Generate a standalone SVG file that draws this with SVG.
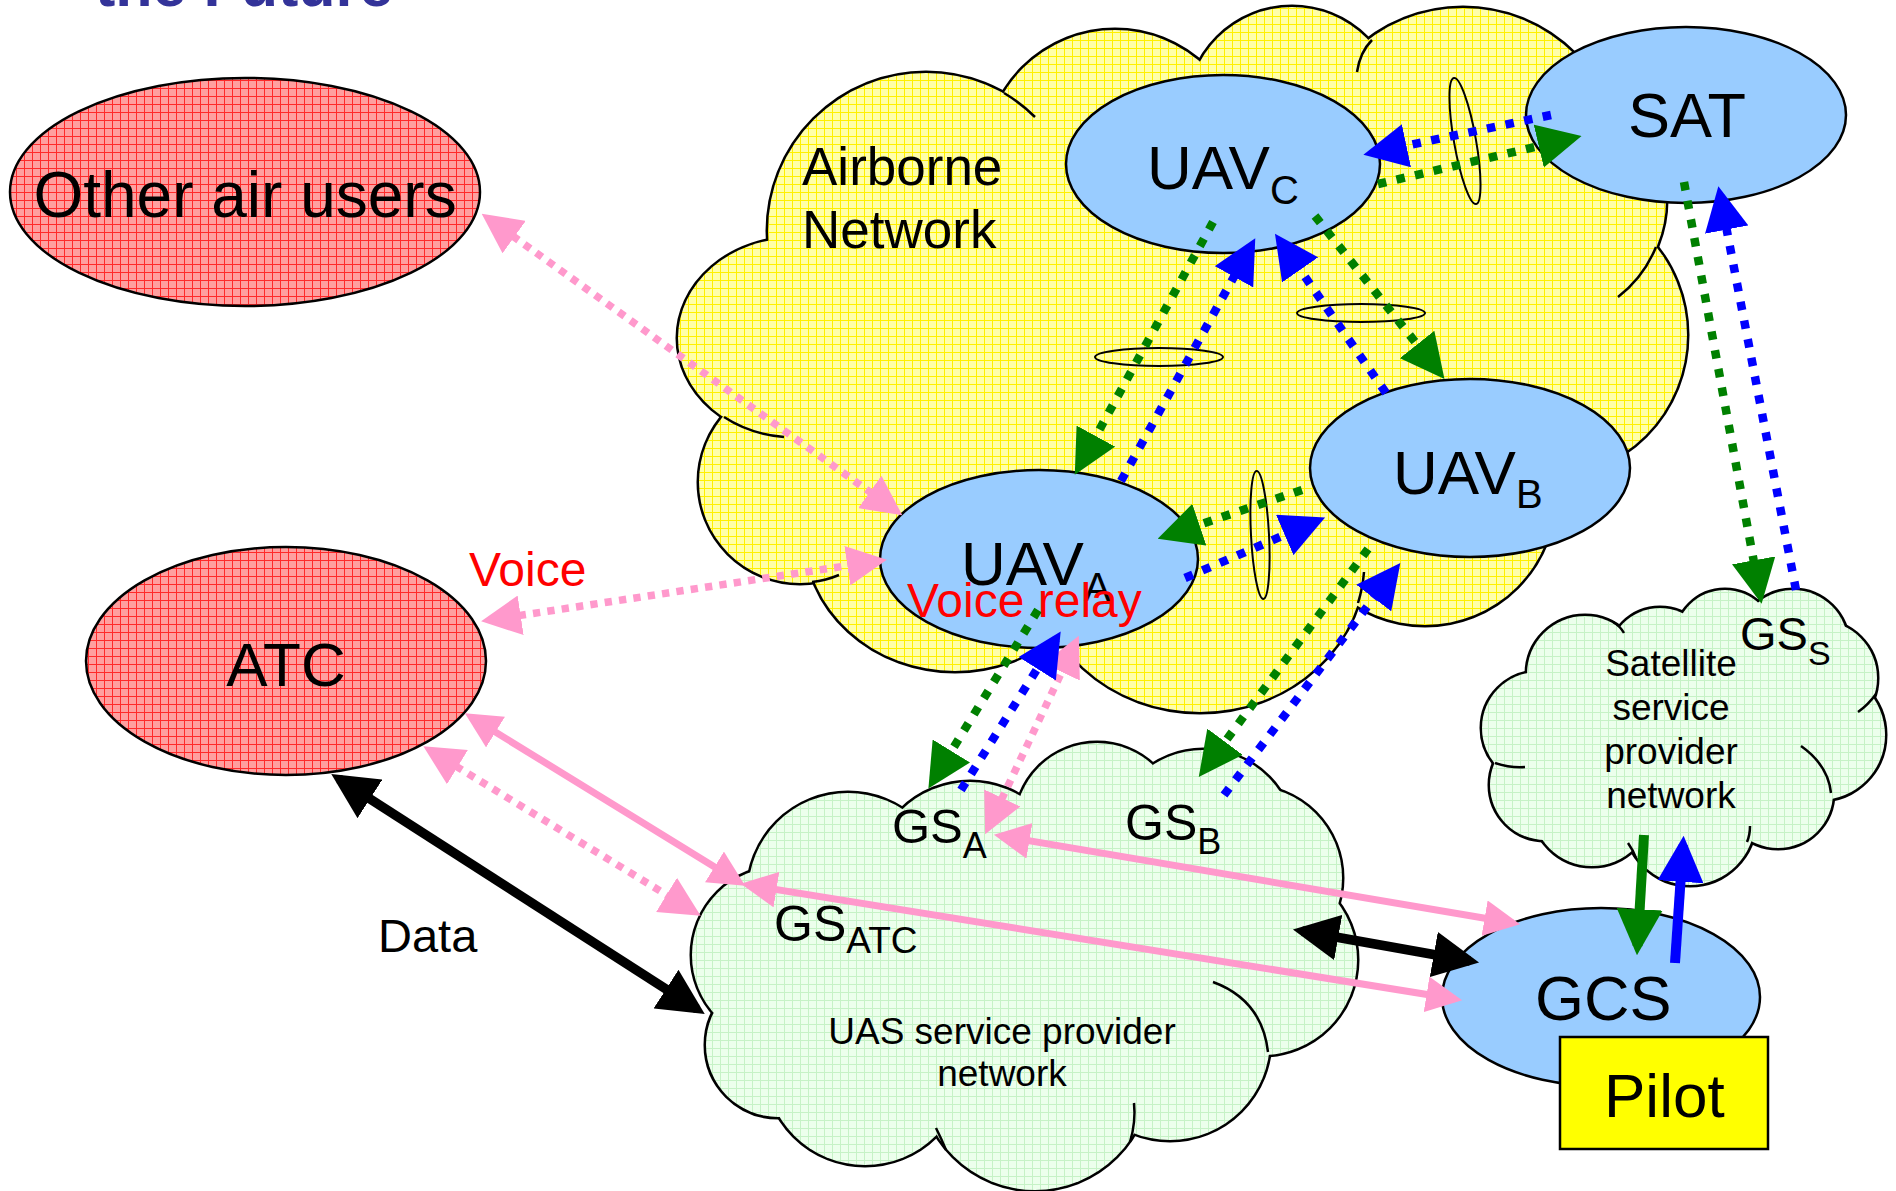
<svg xmlns="http://www.w3.org/2000/svg" xmlns:xlink="http://www.w3.org/1999/xlink" width="1896" height="1191" viewBox="0 0 1896 1191">
<style>
  text { font-family: "Liberation Sans", Arial, sans-serif; fill: #000; }
  .node { stroke: #000; stroke-width: 2.5; }
  .blue { fill: #99ccff; }
  .thin { fill: none; stroke: #000; stroke-width: 2; }
  .stub { fill: none; stroke: #000; stroke-width: 2.5; }
  .dg { fill: none; stroke: #008000; stroke-width: 8.5; stroke-dasharray: 8.5 10.5; }
  .db { fill: none; stroke: #0000ff; stroke-width: 8.5; stroke-dasharray: 8.5 10.5; }
  .dp { fill: none; stroke: #ff99cc; stroke-width: 7.5; stroke-dasharray: 7.3 7.2; }
  .sp { fill: none; stroke: #ff99cc; stroke-width: 7; }
  .sk { fill: none; stroke: #000; stroke-width: 9.5; }
  .sg { fill: none; stroke: #008000; stroke-width: 10; }
  .sb { fill: none; stroke: #0000ff; stroke-width: 10; }
</style>
<defs>
  <pattern id="pRed" width="8" height="8" patternUnits="userSpaceOnUse">
    <rect width="8" height="8" fill="#ff9f9f"/>
    <path d="M0 0.5H8M0.5 0V8" stroke="#ff2a2a" stroke-width="1"/>
  </pattern>
  <pattern id="pYel" width="8" height="8" patternUnits="userSpaceOnUse">
    <rect width="8" height="8" fill="#ffffa8"/>
    <path d="M0 0.5H8M0.5 0V8" stroke="#fff000" stroke-width="1"/>
  </pattern>
  <pattern id="pGrn" width="8" height="8" patternUnits="userSpaceOnUse">
    <rect width="8" height="8" fill="#ecffec"/>
    <path d="M0 0.5H8M0.5 0V8" stroke="#c6f2c6" stroke-width="1"/>
  </pattern>
  <marker id="mG" viewBox="0 0 10 10" refX="8" refY="5" markerUnits="userSpaceOnUse" markerWidth="44" markerHeight="44" orient="auto-start-reverse"><path d="M0,0L10,5L0,10z" fill="#008000"/></marker>
  <marker id="mB" viewBox="0 0 10 10" refX="8" refY="5" markerUnits="userSpaceOnUse" markerWidth="44" markerHeight="44" orient="auto-start-reverse"><path d="M0,0L10,5L0,10z" fill="#0000ff"/></marker>
  <marker id="mP" viewBox="0 0 10 10" refX="7.75" refY="5" markerUnits="userSpaceOnUse" markerWidth="40" markerHeight="40" orient="auto-start-reverse"><path d="M0,0L10,5L0,10z" fill="#ff99cc"/></marker>
  <marker id="mPs" viewBox="0 0 10 10" refX="8" refY="5" markerUnits="userSpaceOnUse" markerWidth="36" markerHeight="36" orient="auto-start-reverse"><path d="M0,0L10,5L0,10z" fill="#ff99cc"/></marker>
  <marker id="mK" viewBox="0 0 10 10" refX="8" refY="5" markerUnits="userSpaceOnUse" markerWidth="46" markerHeight="46" orient="auto-start-reverse"><path d="M0,0L10,5L0,10z" fill="#000"/></marker>
  <marker id="mGs" viewBox="0 0 10 10" refX="8" refY="5" markerUnits="userSpaceOnUse" markerWidth="46" markerHeight="46" orient="auto-start-reverse"><path d="M0,0L10,5L0,10z" fill="#008000"/></marker>
  <marker id="mBs" viewBox="0 0 10 10" refX="8" refY="5" markerUnits="userSpaceOnUse" markerWidth="46" markerHeight="46" orient="auto-start-reverse"><path d="M0,0L10,5L0,10z" fill="#0000ff"/></marker>

  <g id="cloudAir">
    <circle cx="926" cy="231" r="158"/>
    <circle cx="1115" cy="160" r="130"/>
    <circle cx="1292" cy="112" r="105"/>
    <circle cx="1463" cy="166" r="158"/>
    <circle cx="1545" cy="200" r="121"/>
    <circle cx="1545" cy="335" r="142"/>
    <circle cx="1425" cy="495" r="130"/>
    <ellipse cx="1200" cy="560" rx="165" ry="152"/>
    <ellipse cx="955" cy="534" rx="150" ry="137"/>
    <circle cx="800" cy="482" r="101"/>
    <ellipse cx="795" cy="338" rx="117" ry="100"/>
    <polygon points="795,338 926,231 1115,160 1292,112 1463,166 1545,200 1545,335 1425,495 1200,560 955,534 800,482"/>
  </g>
  <g id="cloudUas">
    <circle cx="848" cy="893" r="100"/>
    <circle cx="970" cy="880" r="98"/>
    <circle cx="1097" cy="825" r="82"/>
    <circle cx="1203" cy="842" r="92"/>
    <circle cx="1250" cy="878" r="92"/>
    <circle cx="1262" cy="960" r="95"/>
    <circle cx="1170" cy="1040" r="100"/>
    <circle cx="1035" cy="1075" r="115"/>
    <circle cx="865" cy="1065" r="100"/>
    <circle cx="778" cy="1045" r="72"/>
    <circle cx="780" cy="955" r="88"/>
    <polygon points="848,893 970,880 1097,825 1203,842 1250,878 1262,960 1170,1040 1035,1075 865,1065 778,1045 780,955"/>
  </g>
  <g id="cloudSat">
    <circle cx="1585" cy="674" r="58"/>
    <circle cx="1660" cy="660" r="52"/>
    <circle cx="1725" cy="640" r="50"/>
    <circle cx="1793" cy="645" r="55"/>
    <circle cx="1820" cy="678" r="57"/>
    <circle cx="1820" cy="735" r="65"/>
    <circle cx="1778" cy="793" r="55"/>
    <circle cx="1690" cy="820" r="65"/>
    <circle cx="1592" cy="806" r="60"/>
    <circle cx="1545" cy="785" r="55"/>
    <circle cx="1538" cy="728" r="56"/>
    <polygon points="1585,674 1660,660 1725,640 1793,645 1820,678 1820,735 1778,793 1690,820 1592,806 1545,785 1538,728"/>
  </g>
</defs>

<rect width="1896" height="1191" fill="#ffffff"/>

<text id="title" x="95" y="6" font-size="61" font-weight="bold" style="fill:#333399">the Future</text>

<g id="other-air-users">
  <ellipse class="node" cx="245" cy="192" rx="235" ry="114" fill="url(#pRed)"/>
  <text x="245" y="217" font-size="64" text-anchor="middle">Other air users</text>
</g>

<g id="atc">
  <ellipse class="node" cx="286" cy="661" rx="200" ry="114" fill="url(#pRed)"/>
  <text x="286" y="686" font-size="62" text-anchor="middle">ATC</text>
</g>

<g id="airborne-network">
  <use xlink:href="#cloudAir" href="#cloudAir" fill="url(#pYel)" stroke="#000" stroke-width="5"/>
  <use xlink:href="#cloudAir" href="#cloudAir" fill="url(#pYel)" stroke="none"/>
  <path class="stub" d="M1004,93 A158,158 0 0 1 1035,117"/>
  <path class="stub" d="M1656,247 A121,121 0 0 1 1618,297"/>
  <path class="stub" d="M724,417 A117,100 0 0 0 784,437"/>
  <path class="stub" d="M812,582 A101,101 0 0 0 839,575"/>
  <path class="stub" d="M1358,603 A165,152 0 0 0 1364,572"/>
  <path class="stub" d="M1372,40 Q1360,52 1357,72"/>
  <text x="802" y="185" font-size="53">Airborne</text>
  <text x="802" y="248" font-size="53">Network</text>
</g>

<g id="uas-service-provider-network">
  <use xlink:href="#cloudUas" href="#cloudUas" fill="url(#pGrn)" stroke="#000" stroke-width="5"/>
  <use xlink:href="#cloudUas" href="#cloudUas" fill="url(#pGrn)" stroke="none"/>
  <path class="stub" d="M1213,982 Q1262,1000 1268,1052"/>
  <path class="stub" d="M1134,1103 Q1136,1122 1130,1142"/>
  <path class="stub" d="M946,1150 Q942,1140 936,1128"/>
  <text x="1002" y="1044" font-size="37" text-anchor="middle">UAS service provider</text>
  <text x="1002" y="1086" font-size="37" text-anchor="middle">network</text>
</g>

<g id="satellite-service-provider-network">
  <use xlink:href="#cloudSat" href="#cloudSat" fill="url(#pGrn)" stroke="#000" stroke-width="5"/>
  <use xlink:href="#cloudSat" href="#cloudSat" fill="url(#pGrn)" stroke="none"/>
  <path class="stub" d="M1801,746 Q1828,765 1831,793"/>
  <path class="stub" d="M1495,763 Q1510,768 1525,767"/>
  <path class="stub" d="M1636,858 Q1633,850 1628,843"/>
  <path class="stub" d="M1747,842 Q1750,835 1750,826"/>
  <path class="stub" d="M1876,694 Q1868,705 1858,712"/>
  <path class="stub" d="M1613,622 Q1620,626 1624,633"/>
  <text x="1671" y="676" font-size="37" text-anchor="middle">Satellite</text>
  <text x="1671" y="720" font-size="37" text-anchor="middle">service</text>
  <text x="1671" y="764" font-size="37" text-anchor="middle">provider</text>
  <text x="1671" y="808" font-size="37" text-anchor="middle">network</text>
</g>

<g id="uav-c">
  <ellipse class="node blue" cx="1223" cy="164" rx="157" ry="89"/>
  <text x="1147" y="189" font-size="62">UAV<tspan font-size="40" dy="15">C</tspan></text>
</g>
<g id="sat">
  <ellipse class="node blue" cx="1686" cy="115" rx="160" ry="88"/>
  <text x="1687" y="137" font-size="63" text-anchor="middle">SAT</text>
</g>
<g id="uav-b">
  <ellipse class="node blue" cx="1470" cy="468" rx="160" ry="89"/>
  <text x="1393" y="494" font-size="62">UAV<tspan font-size="40" dy="14">B</tspan></text>
</g>
<g id="uav-a">
  <ellipse class="node blue" cx="1039" cy="559" rx="159" ry="89"/>
  <text x="961" y="585" font-size="62">UAV<tspan font-size="40" dy="16">A</tspan></text>
</g>
<g id="gcs">
  <ellipse class="node blue" cx="1601" cy="997" rx="159" ry="89"/>
  <text x="1535" y="1020" font-size="63">GCS</text>
</g>
<g id="pilot">
  <rect class="node" x="1560" y="1037" width="208" height="112" fill="#ffff00"/>
  <text x="1604" y="1117" font-size="62">Pilot</text>
</g>
<g id="gs-a"><text x="892" y="843" font-size="49">GS<tspan font-size="36" dy="15">A</tspan></text></g>
<g id="gs-b"><text x="1125" y="840" font-size="50">GS<tspan font-size="36" dy="14">B</tspan></text></g>
<g id="gs-atc"><text x="774" y="941" font-size="50">GS<tspan font-size="37" dy="12">ATC</tspan></text></g>
<g id="gs-s"><text x="1740" y="650" font-size="47">GS<tspan font-size="34" dy="15">S</tspan></text></g>

<g id="link-groupings">
  <ellipse class="thin" cx="1465" cy="141" rx="11" ry="64" transform="rotate(-10 1465 141)"/>
  <ellipse class="thin" cx="1159" cy="357" rx="64" ry="9"/>
  <ellipse class="thin" cx="1361" cy="313" rx="64" ry="9"/>
  <ellipse class="thin" cx="1260" cy="535" rx="9" ry="64" transform="rotate(-3 1260 535)"/>
</g>

<g id="connectors">
  <!-- pink dotted voice links -->
  <path class="dp" d="M489,219 L895,510" marker-start="url(#mP)" marker-end="url(#mP)"/>
  <path class="dp" d="M490,620 L878,561" marker-start="url(#mP)" marker-end="url(#mP)"/>
  <path class="dp" d="M431,751 L693,911" marker-start="url(#mP)" marker-end="url(#mP)"/>
  <path class="dp" d="M989,826 L1075,644" marker-start="url(#mP)" marker-end="url(#mP)"/>
  <!-- pink solid links -->
  <path class="sp" d="M471,717 L739,882" marker-start="url(#mPs)" marker-end="url(#mPs)"/>
  <path class="sp" d="M748,885 L1455,999" marker-start="url(#mPs)" marker-end="url(#mPs)"/>
  <path class="sp" d="M1001,836 L1513,923" marker-start="url(#mPs)" marker-end="url(#mPs)"/>
  <!-- black data links -->
  <path class="sk" d="M339,779 L697,1009" marker-start="url(#mK)" marker-end="url(#mK)"/>
  <path class="sk" d="M1302,931 L1470,961" marker-start="url(#mK)" marker-end="url(#mK)"/>
  <!-- solid green / blue satellite ground links -->
  <path class="sg" d="M1644,835 L1637.5,946" marker-end="url(#mGs)"/>
  <path class="sb" d="M1675,963 L1683,845" marker-end="url(#mBs)"/>
  <!-- dotted green -->
  <path class="dg" d="M1378,184 L1573,138" marker-end="url(#mG)"/>
  <path class="dg" d="M1684,182 L1760,595" marker-end="url(#mG)"/>
  <path class="dg" d="M1213,222 L1079,467" marker-end="url(#mG)"/>
  <path class="dg" d="M1315,216 L1439,372" marker-end="url(#mG)"/>
  <path class="dg" d="M1302,490 L1166,536" marker-end="url(#mG)"/>
  <path class="dg" d="M1038,610 L933,781" marker-end="url(#mG)"/>
  <path class="dg" d="M1368,549 L1204,770" marker-end="url(#mG)"/>
  <!-- dotted blue -->
  <path class="db" d="M1551,115 L1372,153" marker-end="url(#mB)"/>
  <path class="db" d="M1796,590 L1720,195" marker-end="url(#mB)"/>
  <path class="db" d="M1121,481 L1251,246" marker-end="url(#mB)"/>
  <path class="db" d="M1386,393 L1280,241" marker-end="url(#mB)"/>
  <path class="db" d="M1185,578 L1317,521" marker-end="url(#mB)"/>
  <path class="db" d="M961,790 L1056,639" marker-end="url(#mB)"/>
  <path class="db" d="M1224,795 L1395,570" marker-end="url(#mB)"/>
</g>

<g id="connector-labels">
  <text x="469" y="586" font-size="48" style="fill:#ff0000">Voice</text>
  <text x="907" y="617" font-size="48" style="fill:#ff0000">Voice relay</text>
  <text x="378" y="952" font-size="47">Data</text>
</g>
</svg>
